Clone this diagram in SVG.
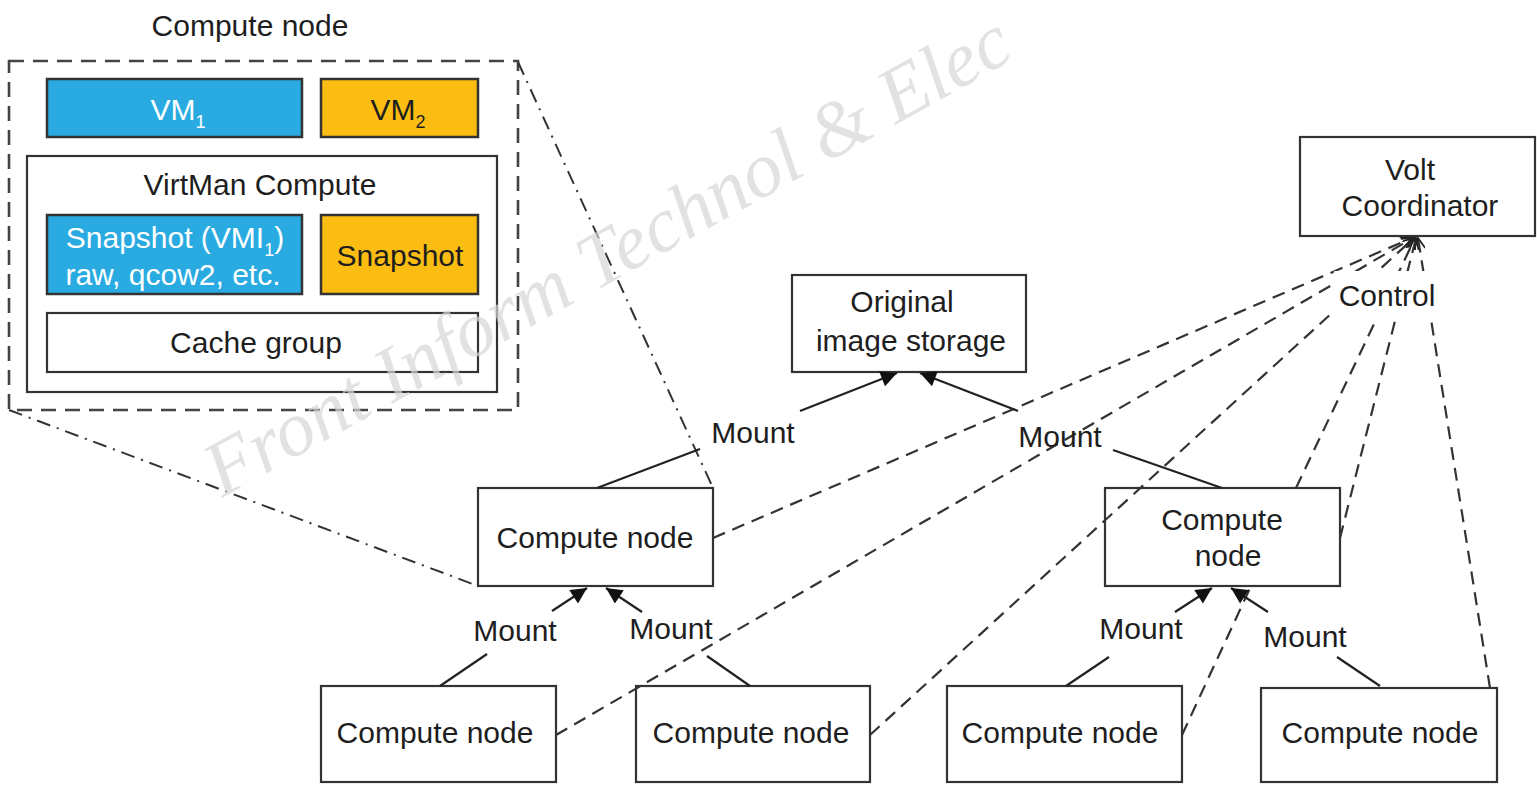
<svg xmlns="http://www.w3.org/2000/svg" width="1537" height="786" viewBox="0 0 1537 786">
<defs>
<style>
text{font-family:"Liberation Sans",Arial,sans-serif;font-size:30px;fill:#1e1e1e;text-anchor:middle}
.box{fill:#fff;stroke:#333;stroke-width:2.2}
.blue{fill:#29ABE2;stroke:#333;stroke-width:2.5}
.orange{fill:#FBBD12;stroke:#333;stroke-width:2.5}
.w{fill:#fff}
.sub{font-size:18px}
.solid{stroke:#222;stroke-width:2.2;fill:none}
.dash{stroke:#333;stroke-width:2.2;fill:none;stroke-dasharray:13 8}
.dashdot{stroke:#333;stroke-width:2;fill:none;stroke-dasharray:14 7 2 7}
.outer{fill:none;stroke:#444;stroke-width:2.6;stroke-dasharray:15 9}
.wm{font-family:"Liberation Serif","Times New Roman",serif;font-style:italic;font-size:78px;fill:#d6d6d6;fill-opacity:0.7;text-anchor:start}
</style>
<marker id="tri" viewBox="0 0 10 10" refX="10" refY="5" markerWidth="18" markerHeight="16" markerUnits="userSpaceOnUse" orient="auto">
<path d="M0,0 L10,5 L0,10 z" fill="#111"/>
</marker>
<marker id="open" viewBox="0 0 10 10" refX="10" refY="5" markerWidth="13" markerHeight="11" markerUnits="userSpaceOnUse" orient="auto">
<path d="M0,0 L10,5 L0,10" fill="none" stroke="#222" stroke-width="1.6"/>
</marker>
</defs>
<rect width="1537" height="786" fill="#fff"/>

<g id="compute-detail">
<text x="250" y="36">Compute node</text>
<rect class="outer" x="9" y="61" width="509" height="349"/>
<g id="vm1"><rect class="blue" x="47" y="79" width="255" height="58"/><text class="w" x="178" y="120">VM<tspan class="sub w" dy="8">1</tspan></text></g>
<g id="vm2"><rect class="orange" x="321" y="79" width="157" height="58"/><text x="398" y="120">VM<tspan class="sub" dy="8">2</tspan></text></g>
<g id="virtman"><rect class="box" x="27" y="156" width="470" height="236"/><text x="260" y="195">VirtMan Compute</text></g>
<g id="snap1"><rect class="blue" x="47" y="215" width="255" height="79"/>
<text class="w" x="175" y="248">Snapshot (VMI<tspan class="sub w" dy="8">1</tspan><tspan dy="-8">)</tspan></text>
<text class="w" x="173" y="285">raw, qcow2, etc.</text></g>
<g id="snap2"><rect class="orange" x="321" y="215" width="157" height="79"/><text x="400" y="266">Snapshot</text></g>
<g id="cache"><rect class="box" x="47" y="313" width="431" height="59"/><text x="256" y="353">Cache group</text></g>
</g>

<g id="storage"><rect class="box" x="792" y="275" width="234" height="97"/><text x="902" y="312">Original</text><text x="911" y="351">image storage</text></g>
<g id="volt"><rect class="box" x="1300" y="137" width="235" height="99"/><text x="1410" y="180">Volt</text><text x="1420" y="216">Coordinator</text></g>
<g id="cn-a"><rect class="box" x="478" y="488" width="235" height="98"/><text x="595" y="548">Compute node</text></g>
<g id="cn-b"><rect class="box" x="1105" y="488" width="235" height="98"/><text x="1222" y="530">Compute</text><text x="1228" y="566">node</text></g>
<g id="cn-c"><rect class="box" x="321" y="686" width="235" height="96"/><text x="435" y="743">Compute node</text></g>
<g id="cn-d"><rect class="box" x="636" y="686" width="234" height="96"/><text x="751" y="743">Compute node</text></g>
<g id="cn-e"><rect class="box" x="947" y="686" width="235" height="96"/><text x="1060" y="743">Compute node</text></g>
<g id="cn-f"><rect class="box" x="1261" y="688" width="236" height="94"/><text x="1380" y="743">Compute node</text></g>

<g id="connectors">
<line class="dashdot" x1="518" y1="62" x2="713" y2="488"/>
<line class="dashdot" x1="9" y1="410" x2="478" y2="586"/>

<line class="dash" x1="713" y1="538" x2="1412" y2="238" marker-end="url(#open)"/>
<line class="dash" x1="556" y1="735" x2="1413" y2="238" marker-end="url(#open)"/>
<line class="dash" x1="870" y1="735" x2="1414" y2="238" marker-end="url(#open)"/>
<line class="dash" x1="1182" y1="735" x2="1251" y2="586"/>
<line class="dash" x1="1296" y1="488" x2="1415" y2="238" marker-end="url(#open)"/>
<line class="dash" x1="1340" y1="538" x2="1416" y2="238" marker-end="url(#open)"/>
<line class="dash" x1="1490" y1="688" x2="1418" y2="238" marker-end="url(#open)"/>
<rect x="1334" y="271" width="110" height="50" fill="#fff"/>
<text x="1387" y="306">Control</text>

<line class="solid" x1="597" y1="488" x2="700" y2="449"/>
<line class="solid" x1="800" y1="411" x2="897" y2="373" marker-end="url(#tri)"/>
<text x="753" y="443">Mount</text>
<line class="solid" x1="1222" y1="488" x2="1113" y2="450"/>
<line class="solid" x1="1018" y1="411" x2="920" y2="373" marker-end="url(#tri)"/>
<text x="1060" y="447">Mount</text>

<line class="solid" x1="440" y1="686" x2="487" y2="654"/>
<line class="solid" x1="552" y1="611" x2="587" y2="588" marker-end="url(#tri)"/>
<text x="515" y="641">Mount</text>
<line class="solid" x1="750" y1="686" x2="707" y2="656"/>
<line class="solid" x1="642" y1="612" x2="606" y2="588" marker-end="url(#tri)"/>
<text x="671" y="639">Mount</text>

<line class="solid" x1="1066" y1="686" x2="1109" y2="657"/>
<line class="solid" x1="1175" y1="612" x2="1212" y2="588" marker-end="url(#tri)"/>
<text x="1141" y="639">Mount</text>
<line class="solid" x1="1380" y1="686" x2="1337" y2="657"/>
<line class="solid" x1="1268" y1="612" x2="1231" y2="588" marker-end="url(#tri)"/>
<text x="1305" y="647">Mount</text>
</g>

<text class="wm" x="222" y="498" transform="rotate(-29 222 498)">Front Inform Technol &amp; Elec</text>
</svg>
